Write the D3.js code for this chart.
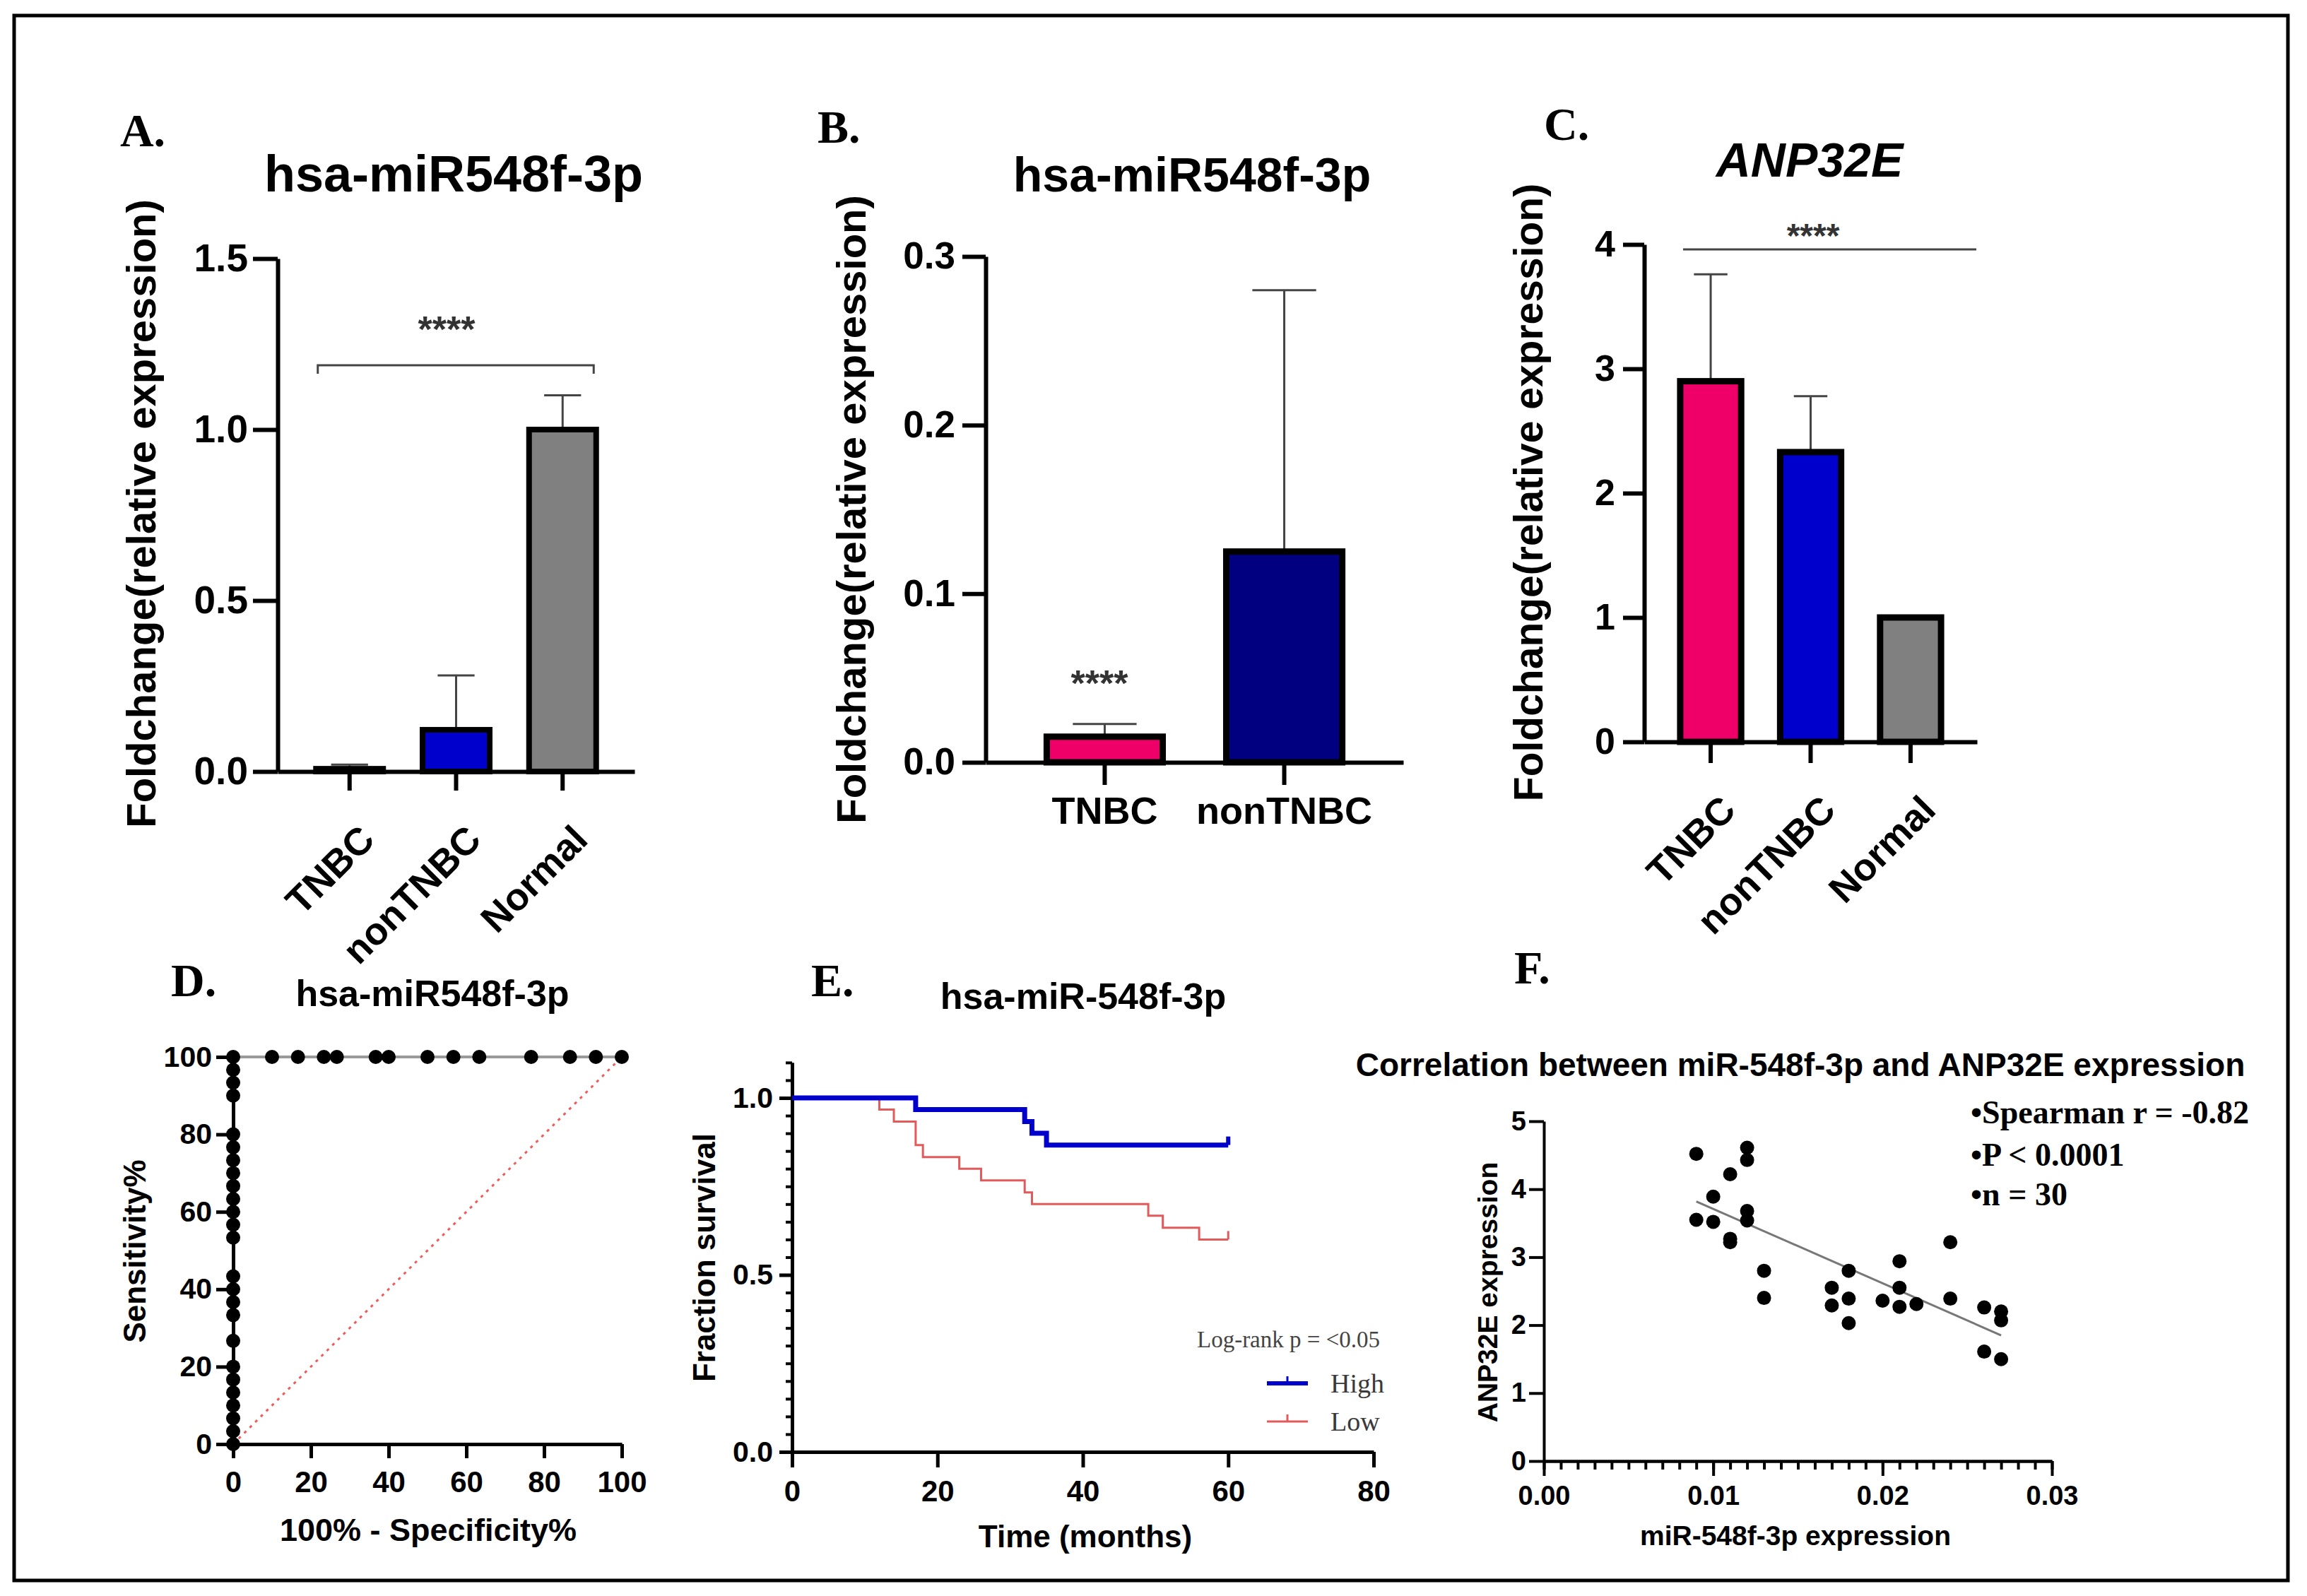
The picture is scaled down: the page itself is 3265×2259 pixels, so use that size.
<!DOCTYPE html>
<html>
<head>
<meta charset="utf-8">
<script src="https://cdn.jsdelivr.net/npm/d3@7"></script>
<style>
body { margin: 0; background: #fff; }
svg { display: block; }
</style>
</head>
<body>
<div id="chart-area"></div>
<script>
// ---- data ----
var groups3 = ["TNBC", "nonTNBC", "Normal"];
var groups2 = ["TNBC", "nonTNBC"];

// A: hsa-miR548f-3p, three groups (mean, top of error bar)
var mirAValues = [0.008, 0.122, 1.0];
var mirAErrTop = [0.02, 0.281, 1.1];
var mirATicks = [0, 0.5, 1.0, 1.5];

// B: hsa-miR548f-3p, TNBC vs nonTNBC
var mirBValues = [0.0152, 0.125];
var mirBErrTop = [0.0227, 0.28];
var mirBTicks = [0, 0.1, 0.2, 0.3];

// C: ANP32E
var anpValues = [2.9, 2.33, 1.0];
var anpErrTop = [3.76, 2.78, 1.0];
var anpTicks = [0, 1, 2, 3, 4];

// D: ROC points (sensitivity at FPR 0, FPR at sensitivity 100)
var rocSensAtZero = [0, 3.33, 6.67, 10, 13.33, 16.67, 20, 26.67, 33.33, 36.67, 40, 43.33,
  53.33, 56.67, 60, 63.33, 66.67, 70, 73.33, 76.67, 80, 90, 93.33, 96.67, 100];
var rocFprAtFull = [10, 16.67, 23.33, 26.67, 36.67, 40, 50, 56.67, 63.33, 76.67, 86.67, 93.33, 100];
var rocTicks = [0, 20, 40, 60, 80, 100];

// E: Kaplan-Meier steps
var highTime = [0, 17, 32, 33, 35, 60];
var highSurv = [1, 0.967, 0.933, 0.9, 0.867, 0.867];
var lowTime = [0, 12, 14, 17, 18, 23, 26, 32, 33, 49, 51, 56, 60];
var lowSurv = [1, 0.967, 0.933, 0.867, 0.833, 0.8, 0.767, 0.733, 0.7, 0.667, 0.633, 0.6, 0.6];
var survTicksY = [0, 0.5, 1.0];
var survTicksX = [0, 20, 40, 60, 80];

// F: correlation scatter
var corrX = [0.009, 0.009, 0.010, 0.010, 0.011, 0.011, 0.011, 0.012, 0.012, 0.012, 0.012, 0.013, 0.013,
  0.017, 0.017, 0.018, 0.018, 0.018, 0.020, 0.021, 0.021, 0.021, 0.022, 0.024, 0.024,
  0.026, 0.026, 0.027, 0.027, 0.027];
var corrY = [4.52, 3.55, 3.89, 3.52, 4.22, 3.27, 3.22, 4.61, 4.43, 3.68, 3.54, 2.80, 2.40,
  2.55, 2.29, 2.80, 2.39, 2.03, 2.36, 2.94, 2.55, 2.27, 2.31, 3.22, 2.39,
  2.26, 1.61, 2.20, 2.07, 1.50];
var fitX = [0.009, 0.027];
var fitY = [3.82, 1.85];
var corrTicksY = [0, 1, 2, 3, 4, 5];
var corrTicksX = [0, 0.01, 0.02, 0.03];

// ---- drawing ----
var SANS = "'Liberation Sans', Arial, sans-serif";
var SERIF = "'Liberation Serif', 'Times New Roman', serif";
var W = 3265, H = 2259;

var svg = d3.select("#chart-area").append("svg")
	.attr("width", W)
	.attr("height", H);

svg.append("rect").attr("width", W).attr("height", H).attr("fill", "#fff");
svg.append("rect")
	.attr("x", 20).attr("y", 22)
	.attr("width", 3218).attr("height", 2215)
	.attr("fill", "none").attr("stroke", "#000").attr("stroke-width", 5);

function styleAxis(g, sw, fs) {
	g.attr("font-family", SANS).attr("font-size", fs);
	g.select(".domain").attr("stroke", "#000").attr("stroke-width", sw);
	g.selectAll(".tick line").attr("stroke", "#000").attr("stroke-width", sw);
	g.selectAll(".tick text").attr("fill", "#000").attr("font-weight", "bold");
}

function addText(x, y, txt, size, opts) {
	opts = opts || {};
	var t = svg.append("text")
		.attr("x", x).attr("y", y)
		.attr("font-family", opts.family || SANS)
		.attr("font-size", size)
		.attr("font-weight", opts.weight || "bold")
		.attr("font-style", opts.style || "normal")
		.attr("fill", opts.fill || "#000")
		.attr("text-anchor", opts.anchor || "middle")
		.text(txt);
	if (opts.rotate) {
		t.attr("x", 0).attr("y", 0).attr("dy", "0.35em")
			.attr("transform", "translate(" + x + "," + y + ") rotate(-90)");
	}
	return t;
}

function barPanel(p) {
	var x = d3.scaleBand().domain(p.groups).range([p.x0, p.x1])
		.paddingInner(p.pi).paddingOuter(p.po);
	var y = d3.scaleLinear().domain([0, p.ymax]).range([p.y0, p.y1]);
	var bw = x.bandwidth();
	var cap = bw * 0.55;

	// error bars (upper half only)
	var eb = svg.append("g").attr("stroke", "#444").attr("stroke-width", 3);
	eb.selectAll("line.v").data(p.errTop).enter().append("line")
		.attr("x1", (d, i) => x(p.groups[i]) + bw / 2)
		.attr("x2", (d, i) => x(p.groups[i]) + bw / 2)
		.attr("y1", (d, i) => y(p.values[i]))
		.attr("y2", d => y(d));
	eb.selectAll("line.c").data(p.errTop).enter().append("line")
		.attr("x1", (d, i) => x(p.groups[i]) + bw / 2 - cap / 2)
		.attr("x2", (d, i) => x(p.groups[i]) + bw / 2 + cap / 2)
		.attr("y1", d => y(d))
		.attr("y2", d => y(d));

	svg.append("g").selectAll("rect").data(p.values).enter().append("rect")
		.attr("x", (d, i) => x(p.groups[i]))
		.attr("y", d => y(d))
		.attr("width", bw)
		.attr("height", d => y(0) - y(d))
		.attr("fill", (d, i) => p.colors[i])
		.attr("stroke", "#000")
		.attr("stroke-width", p.barStroke);

	var ya = svg.append("g")
		.attr("transform", "translate(" + p.x0 + ",0)")
		.call(d3.axisLeft(y).tickValues(p.ticks).tickFormat(p.fmt)
			.tickSize(p.yTick).tickSizeOuter(0).tickPadding(p.yPad));
	styleAxis(ya, 6, p.tickFont);

	var xa = svg.append("g")
		.attr("transform", "translate(0," + p.y0 + ")")
		.call(d3.axisBottom(x).tickSize(p.xTick).tickSizeOuter(0).tickPadding(p.xPad));
	styleAxis(xa, 6, p.labelFont);
	if (p.rotate) {
		xa.selectAll(".tick text")
			.attr("x", 0).attr("y", 0).attr("dy", "0.35em")
			.attr("text-anchor", "end")
			.attr("transform", "translate(25,86) rotate(-45)");
	}
	return { x: x, y: y };
}

// ---- A ----
var sA = barPanel({
	groups: groups3, values: mirAValues, errTop: mirAErrTop,
	colors: ["#ef0068", "#0000cc", "#808080"],
	x0: 393, x1: 898, pi: 0.37, po: 0.36,
	y0: 1092, y1: 366, ymax: 1.5, ticks: mirATicks, fmt: d3.format(".1f"),
	yTick: 35, yPad: 7, xTick: 27, xPad: 10, tickFont: 55, labelFont: 54,
	barStroke: 8, rotate: true
});
var bracketA = svg.append("g").attr("stroke", "#444").attr("stroke-width", 3).attr("fill", "none");
bracketA.append("path")
	.attr("d", "M" + (sA.x("TNBC") + sA.x.bandwidth() / 2 - 45) + "," + (sA.y(1.188) + 12) +
		"V" + sA.y(1.188) +
		"H" + (sA.x("Normal") + sA.x.bandwidth() / 2 + 44) +
		"V" + (sA.y(1.188) + 12));
addText(632, 484, "****", 52, { fill: "#333" });
addText(202, 207, "A.", 66, { family: SERIF });
addText(642, 271, "hsa-miR548f-3p", 72);
addText(200, 727, "Foldchange(relative expression)", 58, { rotate: true });

// ---- B ----
var sB = barPanel({
	groups: groups2, values: mirBValues, errTop: mirBErrTop,
	colors: ["#ef0068", "#000080"],
	x0: 1395, x1: 1986, pi: 0.354, po: 0.34,
	y0: 1079, y1: 363, ymax: 0.3, ticks: mirBTicks, fmt: d3.format(".1f"),
	yTick: 33, yPad: 10, xTick: 32, xPad: 17, tickFont: 53, labelFont: 54,
	barStroke: 9, rotate: false
});
addText(1556, 985, "****", 52, { fill: "#333" });
addText(1157, 202, "B.", 66, { family: SERIF, anchor: "start" });
addText(1687, 271, "hsa-miR548f-3p", 68);
addText(1205, 721, "Foldchange(relative expression)", 58, { rotate: true });

// ---- C ----
var sC = barPanel({
	groups: groups3, values: anpValues, errTop: anpErrTop,
	colors: ["#ef0068", "#0000cc", "#808080"],
	x0: 2327, x1: 2798, pi: 0.39, po: 0.36,
	y0: 1050, y1: 346, ymax: 4, ticks: anpTicks, fmt: d3.format("d"),
	yTick: 30, yPad: 11, xTick: 30, xPad: 10, tickFont: 52, labelFont: 54,
	barStroke: 9, rotate: true
});
svg.append("line")
	.attr("x1", 2382).attr("x2", 2797)
	.attr("y1", sC.y(3.96)).attr("y2", sC.y(3.96))
	.attr("stroke", "#444").attr("stroke-width", 3);
addText(2566, 350, "****", 48, { fill: "#333" });
addText(2185, 198, "C.", 66, { family: SERIF, anchor: "start" });
addText(2561, 250, "ANP32E", 68, { style: "italic" });
addText(2163, 697, "Foldchange(relative expression)", 57, { rotate: true });

// ---- D: ROC ----
var xD = d3.scaleLinear().domain([0, 100]).range([330, 880]);
var yD = d3.scaleLinear().domain([0, 100]).range([2044, 1496]);
var rocPts = rocSensAtZero.map(s => [0, s]).concat(rocFprAtFull.map(f => [f, 100]));

svg.append("line")
	.attr("x1", xD(0)).attr("y1", yD(0)).attr("x2", xD(100)).attr("y2", yD(100))
	.attr("stroke", "#f05a5a").attr("stroke-width", 3).attr("stroke-dasharray", "4,7");
svg.append("path")
	.datum(rocPts)
	.attr("d", d3.line().x(d => xD(d[0])).y(d => yD(d[1])))
	.attr("fill", "none").attr("stroke", "#9a9a9a").attr("stroke-width", 4);

var yDa = svg.append("g").attr("transform", "translate(330,0)")
	.call(d3.axisLeft(yD).tickValues(rocTicks).tickSize(24).tickSizeOuter(0).tickPadding(6));
styleAxis(yDa, 5, 41);
var xDa = svg.append("g").attr("transform", "translate(0,2044)")
	.call(d3.axisBottom(xD).tickValues(rocTicks).tickSize(20).tickSizeOuter(0).tickPadding(18));
styleAxis(xDa, 5, 42);

svg.append("g").selectAll("circle").data(rocPts).enter().append("circle")
	.attr("cx", d => xD(d[0])).attr("cy", d => yD(d[1])).attr("r", 10).attr("fill", "#000");

addText(242, 1410, "D.", 66, { family: SERIF, anchor: "start" });
addText(612, 1424, "hsa-miR548f-3p", 52);
addText(191, 1771, "Sensitivity%", 44, { rotate: true });
addText(606, 2181, "100% - Specificity%", 45);

// ---- E: survival ----
var xE = d3.scaleLinear().domain([0, 80]).range([1121, 1944]);
var yE = d3.scaleLinear().domain([0, 1.1]).range([2055, 2055 - 1.1 * 501]);
var step = d3.line().curve(d3.curveStepAfter).x(d => xE(d[0])).y(d => yE(d[1]));

var yEminor = svg.append("g").attr("transform", "translate(1121,0)")
	.call(d3.axisLeft(yE).tickValues(d3.range(0, 1.101, 0.05)).tickSize(9).tickFormat("").tickSizeOuter(0));
styleAxis(yEminor, 4, 10);
var yEa = svg.append("g").attr("transform", "translate(1121,0)")
	.call(d3.axisLeft(yE).tickValues(survTicksY).tickFormat(d3.format(".1f")).tickSize(18).tickSizeOuter(0).tickPadding(9));
styleAxis(yEa, 5, 41);
var xEa = svg.append("g").attr("transform", "translate(0,2055)")
	.call(d3.axisBottom(xE).tickValues(survTicksX).tickSize(22).tickSizeOuter(0).tickPadding(18));
styleAxis(xEa, 5, 42);

svg.append("path")
	.datum(lowTime.map((t, i) => [t, lowSurv[i]]))
	.attr("d", step).attr("fill", "none").attr("stroke", "#e25a5a").attr("stroke-width", 3);
svg.append("path")
	.datum(highTime.map((t, i) => [t, highSurv[i]]))
	.attr("d", step).attr("fill", "none").attr("stroke", "#0000cc").attr("stroke-width", 7);
// censor marks at last follow-up
svg.append("line")
	.attr("x1", xE(60)).attr("x2", xE(60))
	.attr("y1", yE(highSurv[highSurv.length - 1])).attr("y2", yE(highSurv[highSurv.length - 1]) - 12)
	.attr("stroke", "#0000cc").attr("stroke-width", 6);
svg.append("line")
	.attr("x1", xE(60)).attr("x2", xE(60))
	.attr("y1", yE(lowSurv[lowSurv.length - 1])).attr("y2", yE(lowSurv[lowSurv.length - 1]) - 12)
	.attr("stroke", "#e25a5a").attr("stroke-width", 3);

// legend
addText(1953, 1907, "Log-rank p = <0.05", 33, { family: SERIF, weight: "normal", anchor: "end", fill: "#444" });
var legE = [["High", "#0000cc", 6, 1958], ["Low", "#e25a5a", 3, 2012]];
legE.forEach(function (l) {
	svg.append("line").attr("x1", 1793).attr("x2", 1851).attr("y1", l[3]).attr("y2", l[3])
		.attr("stroke", l[1]).attr("stroke-width", l[2]);
	svg.append("line").attr("x1", 1822).attr("x2", 1822).attr("y1", l[3]).attr("y2", l[3] - 10)
		.attr("stroke", l[1]).attr("stroke-width", 3);
	addText(1883, l[3] + 13, l[0], 38, { family: SERIF, weight: "normal", anchor: "start", fill: "#3a3a3a" });
});

addText(1148, 1410, "E.", 66, { family: SERIF, anchor: "start" });
addText(1533, 1428, "hsa-miR-548f-3p", 52);
addText(997, 1780, "Fraction survival", 44, { rotate: true });
addText(1536, 2190, "Time (months)", 44);

// ---- F: correlation ----
var xF = d3.scaleLinear().domain([0, 0.03]).range([2185, 2904]);
var yF = d3.scaleLinear().domain([0, 5]).range([2068, 1587]);

var xFminor = svg.append("g").attr("transform", "translate(0,2068)")
	.call(d3.axisBottom(xF).tickValues(d3.range(0, 0.03001, 0.001)).tickSize(12).tickFormat("").tickSizeOuter(0));
styleAxis(xFminor, 4, 10);
var xFa = svg.append("g").attr("transform", "translate(0,2068)")
	.call(d3.axisBottom(xF).tickValues(corrTicksX).tickFormat(d3.format(".2f")).tickSize(21).tickSizeOuter(0).tickPadding(14));
styleAxis(xFa, 4, 38);
var yFa = svg.append("g").attr("transform", "translate(2185,0)")
	.call(d3.axisLeft(yF).tickValues(corrTicksY).tickFormat(d3.format("d")).tickSize(21).tickSizeOuter(0).tickPadding(4));
styleAxis(yFa, 4, 38);

svg.append("line")
	.attr("x1", xF(fitX[0])).attr("y1", yF(fitY[0]))
	.attr("x2", xF(fitX[1])).attr("y2", yF(fitY[1]))
	.attr("stroke", "#777").attr("stroke-width", 3);
svg.append("g").selectAll("circle").data(corrX).enter().append("circle")
	.attr("cx", d => xF(d)).attr("cy", (d, i) => yF(corrY[i])).attr("r", 10).attr("fill", "#000");

addText(2143, 1392, "F.", 66, { family: SERIF, anchor: "start" });
addText(2548, 1523, "Correlation between miR-548f-3p and ANP32E expression", 46);
addText(2105, 1829, "ANP32E expression", 39, { rotate: true });
addText(2541, 2187, "miR-548f-3p expression", 39);
addText(2789, 1590, "\u2022Spearman r = -0.82", 46, { family: SERIF, anchor: "start" });
addText(2789, 1650, "\u2022P < 0.0001", 46, { family: SERIF, anchor: "start" });
addText(2789, 1706, "\u2022n = 30", 46, { family: SERIF, anchor: "start" });
</script>
</body>
</html>
